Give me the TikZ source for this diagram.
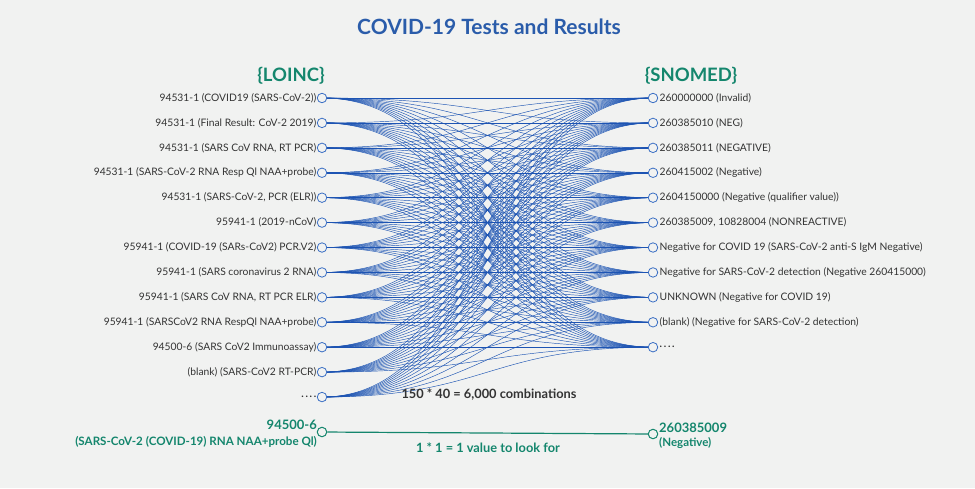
\documentclass[tikz,border=0pt]{standalone}
\usepackage{fontspec}
\setmainfont{Lato}
\pgfdeclarelayer{bg}
\pgfdeclarelayer{lines}
\pgfsetlayers{bg,lines,main}
\definecolor{bgc}{HTML}{F1F2F1}
\definecolor{titleblue}{HTML}{2A5CAA}
\definecolor{linkblue}{HTML}{1D54B3}
\definecolor{dotblue}{HTML}{3A6FC4}
\definecolor{tealgreen}{HTML}{14866D}
\definecolor{txt}{HTML}{333333}
\tikzset{
  dot/.style={circle,draw=dotblue,fill=bgc,line width=0.8pt,minimum size=9.5pt,inner sep=0pt},
  gdot/.style={circle,draw=tealgreen,fill=bgc,line width=1pt,minimum size=9.5pt,inner sep=0pt},
  lab/.style={font=\fontsize{10.3}{12}\selectfont,text=txt,inner sep=0pt},
  link/.style={draw=linkblue,line width=0.45pt},
  head/.style={font=\fontsize{18.5}{20}\selectfont\bfseries,text=tealgreen},
}
\begin{document}
\begin{tikzpicture}[x=1pt,y=-1pt]
\begin{pgfonlayer}{bg}
\fill[bgc] (0,0) rectangle (975,488);
\end{pgfonlayer}
\useasboundingbox (0,0) rectangle (975,488);
\node[font=\fontsize{21}{23}\selectfont\bfseries,text=titleblue] (title) at (489,27) {COVID-19 Tests and Results};
\node[head] (loinc) at (291,76) {\{LOINC\}};
\node[head] (snomed) at (691,76) {\{SNOMED\}};
\foreach \t [count=\i] in {
 {94531-1 (COVID19 (SARS-CoV-2))},
 {94531-1 (Final Result: CoV-2 2019)},
 {94531-1 (SARS CoV RNA, RT PCR)},
 {94531-1 (SARS-CoV-2 RNA Resp Ql NAA+probe)},
 {94531-1 (SARS-CoV-2, PCR (ELR))},
 {95941-1 (2019-nCoV)},
 {95941-1 (COVID-19 (SARs-CoV2) PCR.V2)},
 {95941-1 (SARS coronavirus 2 RNA)},
 {95941-1 (SARS CoV RNA, RT PCR ELR)},
 {95941-1 (SARSCoV2 RNA RespQl NAA+probe)},
 {94500-6 (SARS CoV2 Immunoassay)},
 {(blank) (SARS-CoV2 RT-PCR)},
 {\textbf{.\,.\,.\,.}}}{
  \node[dot] (L\i) at (322,{98+24.92*(\i-1)}) {};
  \node[lab,anchor=east] (ll\i) at (316.5,{98+24.92*(\i-1)}) {\t};
}
\foreach \t [count=\i] in {
 {260000000 (Invalid)},
 {260385010 (NEG)},
 {260385011 (NEGATIVE)},
 {260415002 (Negative)},
 {2604150000 (Negative (qualifier value))},
 {260385009, 10828004 (NONREACTIVE)},
 {Negative for COVID 19 (SARS-CoV-2 anti-S IgM Negative)},
 {Negative for SARS-CoV-2 detection (Negative 260415000)},
 {UNKNOWN (Negative for COVID 19)},
 {(blank) (Negative for SARS-CoV-2 detection)},
 {\textbf{.\,.\,.\,.}}}{
  \node[dot] (R\i) at (653,{98+24.92*(\i-1)}) {};
  \node[lab,anchor=west] (rl\i) at (659.5,{98+24.92*(\i-1)}) {\t};
}
\begin{pgfonlayer}{lines}
\foreach \i in {1,...,13}{
  \foreach \j in {1,...,11}{
    \draw[link] (L\i.center) .. controls +(165,0) and +(-165,0) .. (R\j.center);
  }
}
\end{pgfonlayer}
\node[font=\fontsize{12.8}{14}\selectfont\bfseries,text=txt] (comb) at (489,395) {150 * 40 = 6,000 combinations};
% single mapping
\node[gdot] (GL) at (322,432) {};
\node[gdot] (GR) at (653,434) {};
\draw[tealgreen,line width=1.2pt] (GL) -- (GR);
\node[font=\fontsize{13}{15}\selectfont\bfseries,text=tealgreen,anchor=south east,inner sep=0pt] (g1) at (317,430) {94500-6};
\node[font=\fontsize{11.6}{13}\selectfont\bfseries,text=tealgreen,anchor=north east,inner sep=0pt] (g2) at (317,436) {(SARS-CoV-2 (COVID-19) RNA NAA+probe Ql)};
\node[font=\fontsize{13}{15}\selectfont\bfseries,text=tealgreen,anchor=west,inner sep=0pt] (g3) at (659,428) {260385009};
\node[font=\fontsize{11.5}{13}\selectfont\bfseries,text=tealgreen,anchor=west,inner sep=0pt] (g4) at (659,443) {(Negative)};
\node[font=\fontsize{12.8}{14}\selectfont\bfseries,text=tealgreen] (one) at (488,448) {1 * 1 = 1 value to look for};
\end{tikzpicture}
\end{document}
